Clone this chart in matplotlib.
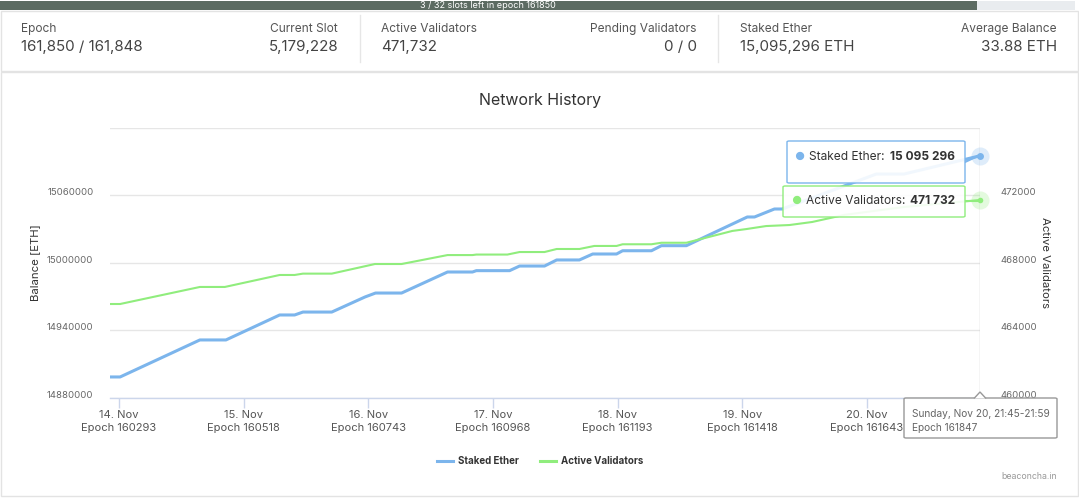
import matplotlib
matplotlib.use("Agg")
import matplotlib.pyplot as plt
import matplotlib.transforms as mtrans
from matplotlib.patches import Rectangle, FancyBboxPatch, Polygon
from matplotlib.lines import Line2D

plt.rcParams['font.family'] = ['Inter', 'DejaVu Sans']

# ---------------- data ----------------
stat_labels = ["Epoch", "Current Slot", "Active Validators", "Pending Validators", "Staked Ether", "Average Balance"]
stat_values = ["161,850 / 161,848", "5,179,228", "471,732", "0 / 0", "15,095,296 ETH", "33.88 ETH"]
progress_text = "3 / 32 slots left in epoch 161850"

staked_epochs = [160277, 160295, 160439, 160486, 160583, 160610, 160625, 160677, 160737, 160756,
                 160803, 160886, 160931, 160938, 160998, 161016, 161061, 161083, 161124, 161148,
                 161191, 161202, 161254, 161272, 161317, 161427, 161440, 161476, 161490, 161660,
                 161710, 161847]
staked_ether = [14898700, 14898700, 14931600, 14931600, 14953800, 14953800, 14956400, 14956400,
                14969800, 14973300, 14973300, 14992000, 14992000, 14993200, 14993200, 14997300,
                14997300, 15002700, 15002700, 15008000, 15008000, 15010900, 15010900, 15015400,
                15015400, 15040900, 15040900, 15048000, 15048000, 15079100, 15079100, 15095296]

valid_epochs = [160277, 160295, 160439, 160484, 160583, 160610, 160625, 160677, 160755, 160803,
                160886, 160931, 160938, 160994, 161016, 161061, 161083, 161124, 161151, 161191,
                161202, 161254, 161272, 161317, 161400, 161425, 161461, 161503, 161544, 161602,
                161710, 161847]
active_validators = [465570, 465570, 466580, 466580, 467290, 467290, 467370, 467370, 467940, 467940,
                     468470, 468470, 468500, 468500, 468650, 468650, 468830, 468830, 469010, 469010,
                     469110, 469110, 469200, 469200, 469900, 470010, 470190, 470250, 470430, 470850,
                     471320, 471732]

tick_epochs = [160293, 160518, 160743, 160968, 161193, 161418, 161643]
tick_days = ["14. Nov", "15. Nov", "16. Nov", "17. Nov", "18. Nov", "19. Nov", "20. Nov"]
left_ticks = [14880000, 14940000, 15000000, 15060000]
right_ticks = [460000, 464000, 468000, 472000]

last_epoch = 161847
last_staked = 15095296
last_active = 471732
tooltip_date = "Sunday, Nov 20, 21:45-21:59"

BLUE = "#7cb5ec"
GREEN = "#90ed7d"

W, H = 1079, 498
fig = plt.figure(figsize=(W / 100, H / 100), dpi=100)
fig.patch.set_facecolor("white")

def fx(x):
    return x / W

def fy(y):
    return 1 - y / H

# ---------------- page chrome ----------------
fig.patches.append(Rectangle((fx(0), fy(10)), fx(977), 9 / H, transform=fig.transFigure,
                             facecolor="#5c6b62", edgecolor="none"))
fig.patches.append(Rectangle((fx(977), fy(10)), fx(1075) - fx(977), 9 / H, transform=fig.transFigure,
                             facecolor="#e9ecef", edgecolor="none"))
fig.text(fx(488), fy(5.5), progress_text, color="white", fontsize=6.5, ha="center", va="center")

# stats card and chart card borders
fig.patches.append(Rectangle((fx(0.5), fy(71)), fx(1077), 60 / H, transform=fig.transFigure,
                             facecolor="none", edgecolor="#e3e3e3", lw=1))
fig.patches.append(Rectangle((fx(0.5), fy(496)), fx(1077), 424 / H, transform=fig.transFigure,
                             facecolor="none", edgecolor="#e3e3e3", lw=1))
for sx in [360, 718]:
    fig.lines.append(Line2D([fx(sx), fx(sx)], [fy(15), fy(62)], transform=fig.transFigure,
                            color="#e6e6e6", lw=1))

stat_pos = [(21, "left"), (338, "right"), (381, "left"), (697, "right"), (740, "left"), (1057, "right")]
for (px, ha), lab, val in zip(stat_pos, stat_labels, stat_values):
    fig.text(fx(px), fy(29), lab, fontsize=8.6, color="#555", ha=ha, va="center")
    fig.text(fx(px), fy(47), val, fontsize=10.9, color="#444", ha=ha, va="center")

fig.text(fx(540), fy(100), "Network History", fontsize=11.5, color="#333", ha="center", va="center")

# ---------------- axes ----------------
L, R, T, B = 110, 980, 128, 398
ax = fig.add_axes([fx(L), fy(B), (R - L) / W, (B - T) / H])
ax2 = ax.twinx()

ax.plot(staked_epochs, staked_ether, color=BLUE, lw=2.2, solid_joinstyle="round", zorder=3)
ax2.plot(valid_epochs, active_validators, color=GREEN, lw=1.5, solid_joinstyle="round", zorder=2)

x0 = tick_epochs[0] - 9 * 225 / 124.8
ax.set_xlim(x0, last_epoch)
ax.set_ylim(14880000, 15120000)
ax2.set_ylim(460000, 476000)

ax.set_yticks(left_ticks)
ax.set_yticklabels([str(v) for v in left_ticks])
ax2.set_yticks(right_ticks)
ax2.set_yticklabels([str(v) for v in right_ticks])
ax.set_xticks(tick_epochs)
ax.set_xticklabels([f"{d}\nEpoch {e}" for d, e in zip(tick_days, tick_epochs)])

ax.grid(axis="y", color="#e6e6e6", lw=1)
ax.axhline(15120000, color="#e6e6e6", lw=1)
ax.set_axisbelow(True)

for a in (ax, ax2):
    for s in ["top", "left", "right", "bottom"]:
        a.spines[s].set_visible(False)
ax.spines["bottom"].set_visible(True)
ax.spines["bottom"].set_color("#ccd6eb")
ax.spines["bottom"].set_linewidth(1)

ax.tick_params(axis="y", length=0, pad=12, labelsize=6.9, labelcolor="#666")
ax2.tick_params(axis="y", length=0, pad=15, labelsize=6.9, labelcolor="#666")
ax.tick_params(axis="x", length=7, width=1, color="#ccd6eb", pad=1.5, labelsize=8, labelcolor="#555")
for lbl in ax.get_xticklabels():
    lbl.set_linespacing(1.35)

shift = mtrans.ScaledTranslation(0, 0.035, fig.dpi_scale_trans)
for lbl in ax.get_yticklabels() + ax2.get_yticklabels():
    lbl.set_transform(lbl.get_transform() + shift)

fig.text(fx(35), fy(263), "Balance [ETH]", fontsize=8.2, color="#333", rotation=90, ha="center", va="center")
fig.text(fx(1045), fy(263), "Active Validators", fontsize=8.2, color="#333", rotation=270, ha="center", va="center")

# crosshair
ax.axvline(last_epoch, color="#cccccc", lw=1, zorder=1)

# hover markers with halo
ax.plot([last_epoch], [last_staked], "o", ms=13, color=BLUE, alpha=0.25, zorder=5, clip_on=False, mec="none")
ax.plot([last_epoch], [last_staked], "o", ms=5, color=BLUE, zorder=6, clip_on=False, mec="none")
ax2.plot([last_epoch], [last_active], "o", ms=13, color=GREEN, alpha=0.25, zorder=5, clip_on=False, mec="none")
ax2.plot([last_epoch], [last_active], "o", ms=4, color=GREEN, zorder=6, clip_on=False, mec="none")

# ---------------- tooltips ----------------
def box(x0p, y0p, x1p, y1p, ec, lw=1):
    fig.patches.append(FancyBboxPatch((fx(x0p), fy(y1p)), (x1p - x0p) / W, (y1p - y0p) / H,
                                      boxstyle="round,pad=0,rounding_size=0.002",
                                      transform=fig.transFigure, facecolor=(1, 1, 1, 0.9),
                                      edgecolor=ec, lw=lw, zorder=10))

# connectors
fig.lines.append(Line2D([fx(965), fx(978)], [fy(162), fy(156)], transform=fig.transFigure,
                        color=BLUE, lw=1.5, zorder=9))
fig.lines.append(Line2D([fx(965), fx(978)], [fy(201), fy(201)], transform=fig.transFigure,
                        color=GREEN, lw=1.5, zorder=9))

box(787, 141, 965, 183, BLUE)
fig.text(fx(799), fy(157), "\u25CF", color=BLUE, fontsize=8, ha="center", va="center", zorder=11)
fig.text(fx(809), fy(157), "Staked Ether: ", color="#333", fontsize=8.6, ha="left", va="center", zorder=11)
fig.text(fx(955), fy(157), f"{last_staked:,}".replace(",", " "), color="#333", fontsize=8.6,
         fontweight="bold", ha="right", va="center", zorder=11)

box(783, 186, 965, 217, GREEN)
fig.text(fx(796), fy(201), "\u25CF", color=GREEN, fontsize=8, ha="center", va="center", zorder=11)
fig.text(fx(806), fy(201), "Active Validators: ", color="#333", fontsize=8.6, ha="left", va="center", zorder=11)
fig.text(fx(955), fy(201), f"{last_active:,}".replace(",", " "), color="#333", fontsize=8.6,
         fontweight="bold", ha="right", va="center", zorder=11)

# bottom date tooltip
box(904, 398, 1057, 438, "#999999")
fig.patches.append(Polygon([[fx(974), fy(398.5)], [fx(980), fy(392)], [fx(986), fy(398.5)]],
                           closed=False, transform=fig.transFigure, facecolor="white",
                           edgecolor="#999999", lw=1, zorder=11))
fig.text(fx(912), fy(414), tooltip_date, color="#666", fontsize=7.3, ha="left", va="center", zorder=12)
fig.text(fx(912), fy(428), f"Epoch {last_epoch}", color="#666", fontsize=7.3, ha="left", va="center", zorder=12)

# ---------------- legend ----------------
fig.lines.append(Line2D([fx(437), fx(453)], [fy(461), fy(461)], transform=fig.transFigure, color=BLUE, lw=2.2))
fig.text(fx(458), fy(461), "Staked Ether", fontsize=7, fontweight="bold", color="#333", ha="left", va="center")
fig.lines.append(Line2D([fx(540), fx(556)], [fy(461), fy(461)], transform=fig.transFigure, color=GREEN, lw=2.2))
fig.text(fx(561), fy(461), "Active Validators", fontsize=7, fontweight="bold", color="#333", ha="left", va="center")

fig.text(fx(1057), fy(476), "beaconcha.in", fontsize=6.3, color="#999", ha="right", va="center")

fig.savefig("out.png", dpi=100, facecolor="white")
